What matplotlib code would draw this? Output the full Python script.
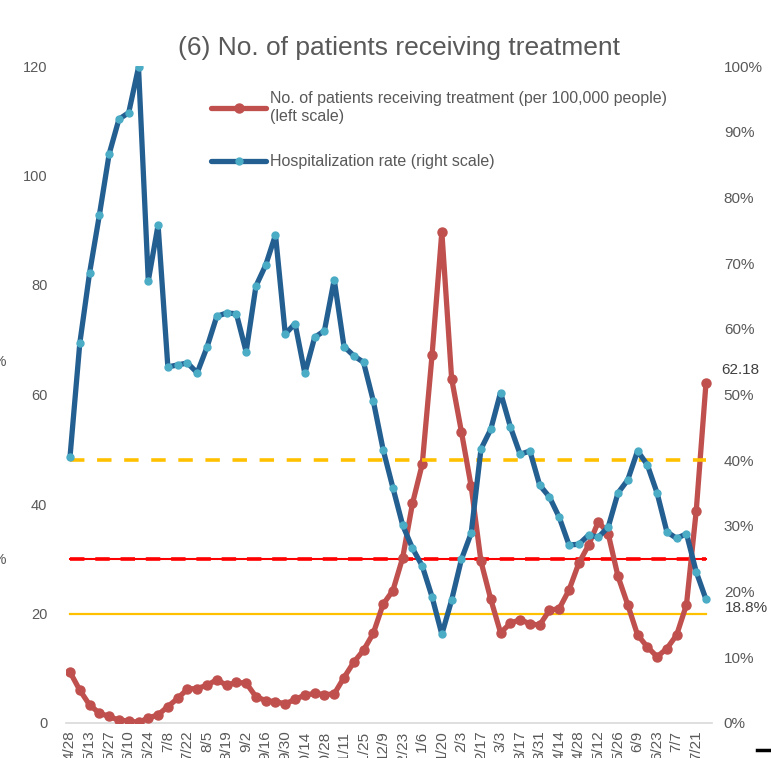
import numpy as np
import matplotlib
matplotlib.use("Agg")
import matplotlib.pyplot as plt
from matplotlib.lines import Line2D

plt.rcParams["font.family"] = ["Liberation Sans", "DejaVu Sans"]

# tick labels, every second weekly point
tick_labels = ["4/28", "5/13", "5/27", "6/10", "6/24", "7/8", "7/22", "8/5", "8/19", "9/2",
               "9/16", "9/30", "10/14", "10/28", "11/11", "11/25", "12/9", "12/23", "1/6",
               "1/20", "2/3", "2/17", "3/3", "3/17", "3/31", "4/14", "4/28", "5/12", "5/26",
               "6/9", "6/23", "7/7", "7/21"]

# patients receiving treatment per 100,000 (left scale)
patients = [9.3, 6.0, 3.3, 1.8, 1.2, 0.5, 0.4, 0.1, 0.9, 1.5,
            3.0, 4.5, 6.2, 6.3, 6.9, 7.9, 6.9, 7.4, 7.3, 4.8,
            4.1, 3.9, 3.5, 4.3, 5.1, 5.4, 5.2, 5.3, 8.3, 11.1,
            13.3, 16.4, 21.7, 24.2, 30.2, 40.1, 47.3, 67.2, 89.7, 62.9,
            53.2, 43.2, 29.5, 22.6, 16.5, 18.2, 18.9, 18.1, 17.9, 20.6,
            20.9, 24.3, 29.2, 32.5, 36.8, 34.6, 26.8, 21.6, 16.1, 13.9,
            12.1, 13.6, 16.1, 21.6, 38.8, 62.18]

# hospitalization rate in % (right scale)
hosp_rate = [40.5, 57.8, 68.5, 77.3, 86.6, 91.9, 92.9, 99.8, 67.3, 75.8,
             54.2, 54.5, 54.8, 53.3, 57.2, 61.9, 62.4, 62.3, 56.5, 66.5,
             69.7, 74.3, 59.2, 60.8, 53.2, 58.7, 59.7, 67.5, 57.3, 55.9,
             54.9, 49.0, 41.6, 35.8, 30.1, 26.6, 23.9, 19.2, 13.5, 18.7,
             24.9, 28.9, 41.7, 44.7, 50.3, 45.1, 40.9, 41.4, 36.2, 34.4,
             31.3, 27.1, 27.2, 28.6, 28.3, 29.8, 35.0, 37.0, 41.4, 39.3,
             35.0, 29.1, 28.1, 28.8, 23.0, 18.8]

# reference levels
ref_yellow_left = 20
ref_red_left = 30
ref_dashed_right = 40

x = np.arange(len(patients))
gray = "#595959"

fig = plt.figure(figsize=(7.71, 7.58), dpi=100)
ax = fig.add_axes([66 / 771, 35 / 758, 646 / 771, 657 / 758])
ax2 = ax.twinx()

# reference lines
ax.plot([x[0], x[-1]], [ref_yellow_left] * 2, color="#FFC000", lw=1.6, zorder=1)
ax.plot([x[0], x[-1]], [ref_red_left] * 2, color="#FF0000", lw=1.5, zorder=1)
ax.plot([x[0], x[-1]], [ref_red_left] * 2, color="#FF0000", lw=2.6, dashes=(4, 3), zorder=1)

ax.plot(x, patients, color="#C0504D", lw=3.8, marker="o", ms=6.5,
        solid_capstyle="round", zorder=3,
        label="No. of patients receiving treatment (per 100,000 people)\n(left scale)")

ax2.plot([x[0], x[-1]], [ref_dashed_right] * 2, color="#FFC000", lw=2.6, dashes=(4, 3.5), zorder=1)
ax2.plot(x, hosp_rate, color="#245F91", lw=3.8, marker="o", ms=5,
         mfc="#4BACC6", mec="#4BACC6", solid_capstyle="round", zorder=3,
         label="Hospitalization rate (right scale)")

ax.set_xlim(-0.41, 65.61)
ax.set_ylim(0, 120)
ax2.set_ylim(0, 100)
ax.set_yticks(np.arange(0, 121, 20))
ax2.set_yticks(np.arange(0, 101, 10))
ax2.set_yticklabels([f"{v}%" for v in range(0, 101, 10)])
ax.set_xticks(x[::2])
ax.set_xticklabels(tick_labels, rotation=90, va="top")

for a in (ax, ax2):
    for s in a.spines.values():
        s.set_visible(False)
    a.tick_params(length=0, labelcolor=gray)
ax.spines["bottom"].set_visible(True)
ax.spines["bottom"].set_color("#D9D9D9")
ax.spines["bottom"].set_linewidth(1.2)
ax.tick_params(axis="y", pad=13.5, labelsize=10.5)
ax.tick_params(axis="x", pad=5.5, labelsize=11)
ax2.tick_params(axis="y", pad=8.5, labelsize=11)

ax.annotate("62.18", xy=(x[-1], patients[-1]), xytext=(34, 13), textcoords="offset pixels",
            ha="center", va="center", fontsize=11, color="#404040")
ax2.annotate("18.8%", xy=(x[-1], hosp_rate[-1]), xytext=(40, -9), textcoords="offset pixels",
             ha="center", va="center", fontsize=11, color="#404040")

fig.text(399 / 771, 1 - 48 / 758, "(6) No. of patients receiving treatment",
         ha="center", va="center", fontsize=19, color=gray)

h1, l1 = ax.get_legend_handles_labels()
h2, l2 = ax2.get_legend_handles_labels()
fig.legend(h1 + h2, l1 + l2, loc="upper left", bbox_to_anchor=(197 / 771, 1 - 77 / 758),
           frameon=False, fontsize=11.5, handlelength=3.4, handletextpad=0.25,
           labelspacing=1.9, labelcolor=gray)

# cropped leftovers at the edges of the picture
fig.text(6 / 771, 1 - 362 / 758, "%", ha="right", va="center", fontsize=11, color=gray)
fig.text(6 / 771, 1 - 560 / 758, "%", ha="right", va="center", fontsize=11, color=gray)
fig.add_artist(Line2D([757 / 771, 1], [8 / 758, 8 / 758], color="black", lw=2.5))

fig.savefig("out.png", dpi=100)
